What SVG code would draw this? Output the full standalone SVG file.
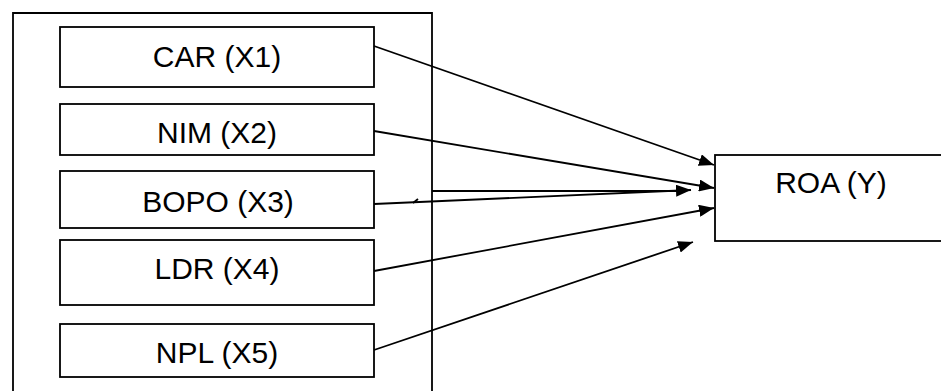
<svg xmlns="http://www.w3.org/2000/svg" width="941" height="391" viewBox="0 0 941 391">
<style>
.box{fill:#fff;stroke:#000;stroke-width:1.8}
.frame{fill:none;stroke:#000;stroke-width:1.8}
.lbl{font-family:"Liberation Sans",Arial,sans-serif;font-size:30px;fill:#000;text-anchor:middle}
.con{stroke:#000;stroke-width:1.8;fill:none}
.arr{marker-end:url(#ah)}
</style>
<defs>
<marker id="ah" markerUnits="userSpaceOnUse" markerWidth="16" markerHeight="12" refX="15" refY="6" orient="auto">
<path d="M0,0 L15,6 L0,12 z" fill="#000"/>
</marker>
</defs>
<rect width="941" height="391" fill="#fff"/>
<g id="frame">
<path class="frame" d="M13,395 L13,13 L432,13 L432,395"/>
</g>
<g id="car"><rect class="box" x="60" y="27" width="314" height="60"/><text class="lbl" x="217" y="67">CAR (X1)</text></g>
<g id="nim"><rect class="box" x="60" y="104" width="314" height="51"/><text class="lbl" x="217" y="143">NIM (X2)</text></g>
<g id="bopo"><rect class="box" x="60" y="171" width="314" height="57"/><text class="lbl" x="218" y="212">BOPO (X3)</text></g>
<g id="ldr"><rect class="box" x="60" y="240" width="314" height="65"/><text class="lbl" x="217" y="279">LDR (X4)</text></g>
<g id="npl"><rect class="box" x="60" y="324" width="314" height="53"/><text class="lbl" x="217" y="363">NPL (X5)</text></g>
<g id="roa"><rect class="box" x="715" y="155" width="240" height="86"/><text class="lbl" x="831" y="193">ROA (Y)</text></g>
<g id="connectors">
<line class="con arr" x1="374" y1="46" x2="714" y2="165"/>
<line class="con arr" x1="374" y1="131" x2="714" y2="188"/>
<line class="con" x1="432" y1="191" x2="680" y2="191"/>
<line class="con arr" x1="374" y1="204" x2="691" y2="190"/>
<line class="con arr" x1="374" y1="271" x2="714" y2="208"/>
<line class="con arr" x1="374" y1="350" x2="693" y2="242"/>
<path class="con" d="M413,203 L418,199"/>
</g>
</svg>
